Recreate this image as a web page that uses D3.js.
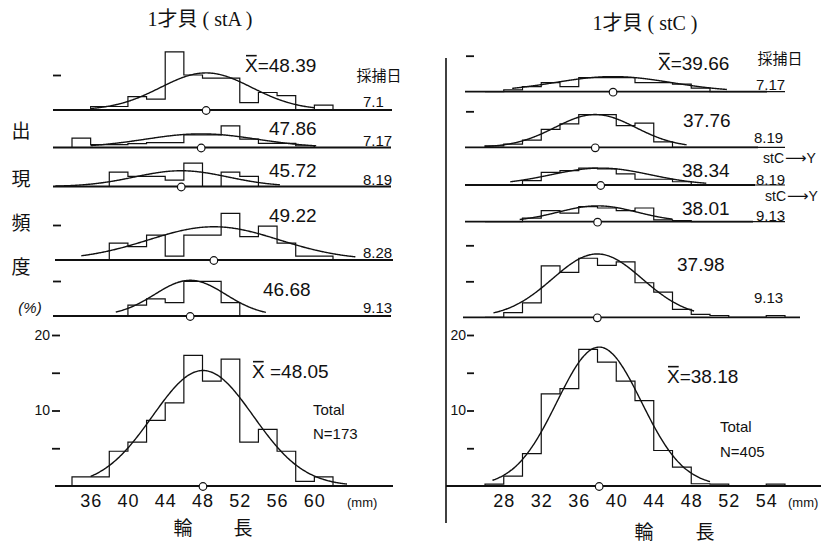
<!DOCTYPE html>
<html><head><meta charset="utf-8">
<script src="https://cdn.jsdelivr.net/npm/d3@7"></script>
<style>
body{margin:0;background:#fff}
svg{display:block}
text{fill:#111}
</style>
</head><body>
<svg id="chart" width="827" height="544"></svg>
<script>
// ---------- data: shell length frequency (%) in 2 mm classes ----------
const binWidth = 2;

// stA, 1-year-old, class starts at 34 mm (34-36, 36-38, ... 60-62)
const binStartA = 34;
const datesA = ["7.1", "7.17", "8.19", "8.28", "9.13"];
const meansA = [48.39, 47.86, 45.72, 49.22, 46.68];
const sdA = [4.9, 6.0, 5.0, 7.0, 3.8];
const peakA = [10.6, 3.9, 4.5, 9.5, 10.2];
const curveFromA = [36, 36, 32.2, 35, 38.7];
const curveToA = [60, 60.2, 56.3, 64.4, 54.8];
const freqA_0701 = [0, 1.0, 1.0, 3.8, 3.1, 16.6, 10.0, 9.1, 9.1, 2.1, 5.0, 4.1, 0, 1.4];
const freqA_0717 = [2.7, 0.8, 0.8, 1.1, 1.4, 1.4, 3.6, 3.6, 6.2, 2.4, 1.2, 1.2, 0.5, 0];
const freqA_0819 = [0, 0, 4.1, 2.9, 2.9, 1.8, 6.7, 0, 4.1, 2.9, 0, 0, 0, 0];
const freqA_0828 = [0, 0, 4.8, 3.8, 7.1, 1.1, 7.1, 7.1, 13.3, 6.7, 9.7, 4.8, 1.1, 1.1];
const freqA_0913 = [0, 0, 0, 3.1, 4.9, 3.8, 9.9, 9.9, 3.8, 0, 0, 0, 0, 0];
const freqA_total = [1.2, 1.2, 4.6, 5.8, 8.7, 11.0, 17.3, 13.9, 16.8, 5.8, 7.5, 4.6, 0.6, 1.2];
const totalA = {mean: 48.05, sd: 5.4, peak: 15.3, from: 36, to: 63.5, n: 173};

// stC, 1-year-old, class starts at 26 mm (26-28, ... 56-58)
const binStartC = 26;
const datesC = ["7.17", "8.19", "8.19", "9.13", "9.13"];
const notesC = ["", "", "stC→Y", "stC→Y", ""];
const meansC = [39.66, 37.76, 38.34, 38.01, 37.98];
const sdC = [6.2, 4.3, 5.3, 4.2, 4.8];
const peakC = [4.2, 9.1, 4.7, 4.4, 17.6];
const curveFromC = [28.9, 26, 28.7, 29.7, 26.9];
const curveToC = [51.8, 47.5, 49.6, 46, 48.3];
const freqC_0717 = [0, 0.5, 1.4, 2.5, 1.4, 3.9, 3.9, 3.9, 2.5, 2.5, 2.1, 1.0, 0, 0, 0, 0];
const freqC_0819 = [0.4, 0.9, 2.0, 5.0, 6.5, 9.1, 9.1, 6.0, 6.7, 1.5, 0, 0, 0, 0, 0, 0];
const freqC_0819Y = [0, 0, 1.2, 3.5, 4.0, 4.7, 4.5, 3.1, 1.6, 1.6, 0.9, 0, 0, 0, 0, 0];
const freqC_0913Y = [0, 0, 1.0, 3.1, 2.4, 4.2, 3.8, 3.1, 3.8, 0.5, 0.3, 0, 0, 0, 0, 0];
const freqC_0913 = [0, 1.3, 4.0, 14.3, 12.5, 16.4, 14.4, 15.4, 9.6, 7.0, 2.2, 0.8, 0.5, 0, 0, 0.5];
const freqC_total = [0.25, 1.3, 4.3, 12.2, 12.9, 18.1, 16.4, 13.9, 11.3, 4.7, 2.5, 0.3, 0.25, 0, 0, 0.25];
const totalC = {mean: 38.18, sd: 4.5, peak: 18.4, from: 26.8, to: 50, n: 405};

// axis ticks
const xTicksA = [36, 40, 44, 48, 52, 56, 60];
const xTickLabelsA = ["36", "40", "44", "48", "52", "56", "60"];
const xTicksC = [28, 32, 36, 40, 44, 48, 52, 56];
const xTickLabelsC = ["28", "32", "36", "40", "44", "48", "52", "54"];
const yTicksTotal = [5, 10, 15, 20];
const yTickLabelsTotal = ["", "10", "", "20"];
const smallTicksA = [[10], [], [], [10], [10]];
const smallTicksC = [[10], [10], [], [], [10, 20]];

// ---------- layout ----------
const SANS = "'Liberation Sans', Arial, Helvetica, sans-serif";
const CJK = "'Noto Sans CJK JP', 'Noto Sans CJK SC', sans-serif";
const SERIF = "'Liberation Serif', 'DejaVu Serif', 'Noto Sans CJK JP', serif";
const INK = "#111";

const svg = d3.select("#chart");
const xA = d3.scaleLinear().domain([34, 62]).range([72, 333]);
const xC = d3.scaleLinear().domain([26, 58]).range([485, 785]);

const smallUnit = 3.5;   // px per % in the dated panels
const panelsA = [
  {base: 110,   line: [53, 392], label: [245, 72],  date: [363, 107]},
  {base: 147.5, line: [53, 391], label: [269, 135], date: [363, 146]},
  {base: 186.5, line: [53, 391], label: [269, 177], date: [363, 185]},
  {base: 260,   line: [55, 393], label: [269, 222], date: [363, 258]},
  {base: 316,   line: [53, 391], label: [263, 296], date: [363, 313]}
];
const panelsC = [
  {base: 91.7,  line: [465, 767], label: [658, 70],  date: [756, 90]},
  {base: 147.3, line: [465, 758], label: [683, 127], date: [754, 143]},
  {base: 185,   line: [465, 755], label: [682, 177], date: [756, 185], note: [763, 163]},
  {base: 221.7, line: [465, 753], label: [682, 215], date: [756, 221], note: [765, 201]},
  {base: 317.3, line: [463, 800], label: [677, 271], date: [754, 303]}
];

function gauss(m, s, p) { return v => p * Math.exp(-((v - m) ** 2) / (2 * s * s)); }

function drawHist(g, x, y, start, vals, mean, sd, peak, from, to, lineExt) {
  // baseline
  g.append("line").attr("x1", lineExt[0]).attr("x2", lineExt[1])
    .attr("y1", y(0)).attr("y2", y(0))
    .attr("stroke", INK).attr("stroke-width", 1.8);
  // step outline of the histogram
  const pts = [[x(start), y(0)]];
  vals.forEach((v, i) => {
    pts.push([x(start + i * binWidth), y(v)], [x(start + (i + 1) * binWidth), y(v)]);
  });
  pts.push([x(start + vals.length * binWidth), y(0)]);
  g.append("path").attr("d", d3.line()(pts))
    .attr("fill", "none").attr("stroke", INK).attr("stroke-width", 1.2)
    .attr("stroke-linejoin", "miter");
  // fitted normal curve
  const f = gauss(mean, sd, peak);
  const xs = d3.range(from, to, 0.1).concat([to]);
  g.append("path").attr("d", d3.line().x(d => x(d)).y(d => y(f(d))).curve(d3.curveBasis)(xs))
    .attr("fill", "none").attr("stroke", INK).attr("stroke-width", 1.4);
  // mean marker
  g.append("circle").attr("cx", x(mean)).attr("cy", y(0) + 0.5).attr("r", 3.8)
    .attr("fill", "#fff").attr("stroke", INK).attr("stroke-width", 1.2);
}

function meanLabel(g, px, py, mean, withBar, size, gap) {
  const t = g.append("text").attr("x", px).attr("y", py)
    .attr("font-family", SANS).attr("font-size", size);
  if (withBar) {
    const xs = t.append("tspan").text("X");
    t.append("tspan").text((gap ? " " : "") + "=" + mean.toFixed(2));
    const w = xs.node().getComputedTextLength();
    g.append("line").attr("x1", px + 1).attr("x2", px + w - 1)
      .attr("y1", py - size * 0.86).attr("y2", py - size * 0.86)
      .attr("stroke", INK).attr("stroke-width", 1.6);
  } else {
    t.text(mean.toFixed(2));
  }
}

function smallTicks(g, x0, y, ticks) {
  const ax = d3.axisLeft(y).tickValues(ticks).tickFormat("").tickSize(8);
  const a = g.append("g").attr("transform", `translate(${x0},0)`).call(ax);
  a.select(".domain").remove();
  a.selectAll("line").attr("stroke", INK).attr("stroke-width", 1.8);
}

function text(g, x, y, s, size, family, anchor, extra) {
  const t = g.append("text").attr("x", x).attr("y", y).text(s)
    .attr("font-size", size).attr("font-family", family)
    .attr("text-anchor", anchor || "start");
  if (extra) extra(t);
  return t;
}

// "stC→Y" note with a long arrow
function arrowNote(g, x, y, s) {
  const parts = s.split("→");
  const t = g.append("text").attr("x", x).attr("y", y)
    .attr("font-family", SANS).attr("font-size", 14);
  t.append("tspan").text(parts[0]);
  t.append("tspan").text("⟶").attr("font-family", "'DejaVu Sans', sans-serif")
    .attr("font-size", 15).attr("dx", 1);
  t.append("tspan").text(parts[1]);
}

// ---------- left block: stA ----------
const gA = svg.append("g");
const freqsA = [freqA_0701, freqA_0717, freqA_0819, freqA_0828, freqA_0913];
panelsA.forEach((p, i) => {
  const y = d3.scaleLinear().domain([0, 10]).range([p.base, p.base - 10 * smallUnit]);
  drawHist(gA, xA, y, binStartA, freqsA[i], meansA[i], sdA[i], peakA[i], curveFromA[i], curveToA[i], p.line);
  meanLabel(gA, p.label[0], p.label[1], meansA[i], i === 0, 19, false);
  text(gA, p.date[0], p.date[1], datesA[i], 15, SANS);
  if (smallTicksA[i].length) smallTicks(gA, 61, y, smallTicksA[i]);
});

const yTotA = d3.scaleLinear().domain([0, 20]).range([486, 335]);
drawHist(gA, xA, yTotA, binStartA, freqA_total, totalA.mean, totalA.sd, totalA.peak, totalA.from, totalA.to, [55, 393]);
meanLabel(gA, 252, 378, totalA.mean, true, 19, true);
text(gA, 313, 415, "Total", 15, SANS);
text(gA, 313, 439, "N=" + totalA.n, 15, SANS);

// left frequency axis (ticks + labels only)
const axA = gA.append("g").attr("transform", "translate(60,0)")
  .call(d3.axisLeft(yTotA).tickValues(yTicksTotal)
    .tickFormat((d, i) => yTickLabelsTotal[i]).tickSize(8).tickPadding(2));
axA.select(".domain").remove();
axA.selectAll("line").attr("stroke", INK).attr("stroke-width", 1.8);
axA.selectAll("text").attr("font-family", SANS).attr("font-size", 14).attr("fill", INK);

// left length axis labels
const axXA = gA.append("g").attr("transform", "translate(0,486)")
  .call(d3.axisBottom(xA).tickValues(xTicksA)
    .tickFormat((d, i) => xTickLabelsA[i]).tickSize(0).tickPadding(8));
axXA.select(".domain").remove();
axXA.selectAll("text").attr("font-family", SANS).attr("font-size", 18)
  .attr("letter-spacing", 1).attr("fill", INK);
text(gA, 347, 507, "(mm)", 13, SANS);
text(gA, 183, 535, "輪", 19, CJK, "middle");
text(gA, 243, 535, "長", 19, CJK, "middle");

// titles and side labels
text(gA, 200, 26, "1才貝 ( stA )", 20, SERIF, "middle");
text(gA, 379, 81, "採捕日", 15, CJK, "middle");
["出", "現", "頻", "度"].forEach((c, i) => text(gA, 21, [138, 186, 230, 274][i], c, 19, CJK, "middle"));
text(gA, 30, 313, "(%)", 15, SANS, "middle", t => t.attr("font-style", "italic"));

// ---------- right block: stC ----------
const gC = svg.append("g");
gC.append("line").attr("x1", 446).attr("x2", 446).attr("y1", 58).attr("y2", 523)
  .attr("stroke", INK).attr("stroke-width", 1.6);

const freqsC = [freqC_0717, freqC_0819, freqC_0819Y, freqC_0913Y, freqC_0913];
panelsC.forEach((p, i) => {
  const y = d3.scaleLinear().domain([0, 10]).range([p.base, p.base - 10 * 3.6]);
  drawHist(gC, xC, y, binStartC, freqsC[i], meansC[i], sdC[i], peakC[i], curveFromC[i], curveToC[i], p.line);
  meanLabel(gC, p.label[0], p.label[1], meansC[i], i === 0, 19, false);
  text(gC, p.date[0], p.date[1], datesC[i], 15, SANS);
  if (notesC[i]) arrowNote(gC, p.note[0], p.note[1], notesC[i]);
  if (smallTicksC[i].length) smallTicks(gC, 474, y, smallTicksC[i]);
});

const yTotC = d3.scaleLinear().domain([0, 20]).range([486, 335]);
drawHist(gC, xC, yTotC, binStartC, freqC_total, totalC.mean, totalC.sd, totalC.peak, totalC.from, totalC.to, [446, 821]);
meanLabel(gC, 667, 383, totalC.mean, true, 19, false);
text(gC, 720, 432, "Total", 15, SANS);
text(gC, 720, 457, "N=" + totalC.n, 15, SANS);

const axC = gC.append("g").attr("transform", "translate(474,0)")
  .call(d3.axisLeft(yTotC).tickValues(yTicksTotal)
    .tickFormat((d, i) => yTickLabelsTotal[i]).tickSize(7).tickPadding(1));
axC.select(".domain").remove();
axC.selectAll("line").attr("stroke", INK).attr("stroke-width", 1.8);
axC.selectAll("text").attr("font-family", SANS).attr("font-size", 14).attr("fill", INK);

const axXC = gC.append("g").attr("transform", "translate(0,486)")
  .call(d3.axisBottom(xC).tickValues(xTicksC)
    .tickFormat((d, i) => xTickLabelsC[i]).tickSize(0).tickPadding(8));
axXC.select(".domain").remove();
axXC.selectAll("text").attr("font-family", SANS).attr("font-size", 18)
  .attr("letter-spacing", 1).attr("fill", INK);
text(gC, 788, 507, "(mm)", 13, SANS);
text(gC, 644, 539, "輪", 19, CJK, "middle");
text(gC, 705, 539, "長", 19, CJK, "middle");

text(gC, 645, 30, "1才貝 ( stC )", 20, SERIF, "middle");
text(gC, 780, 64, "採捕日", 15, CJK, "middle");
</script>
</body></html>
